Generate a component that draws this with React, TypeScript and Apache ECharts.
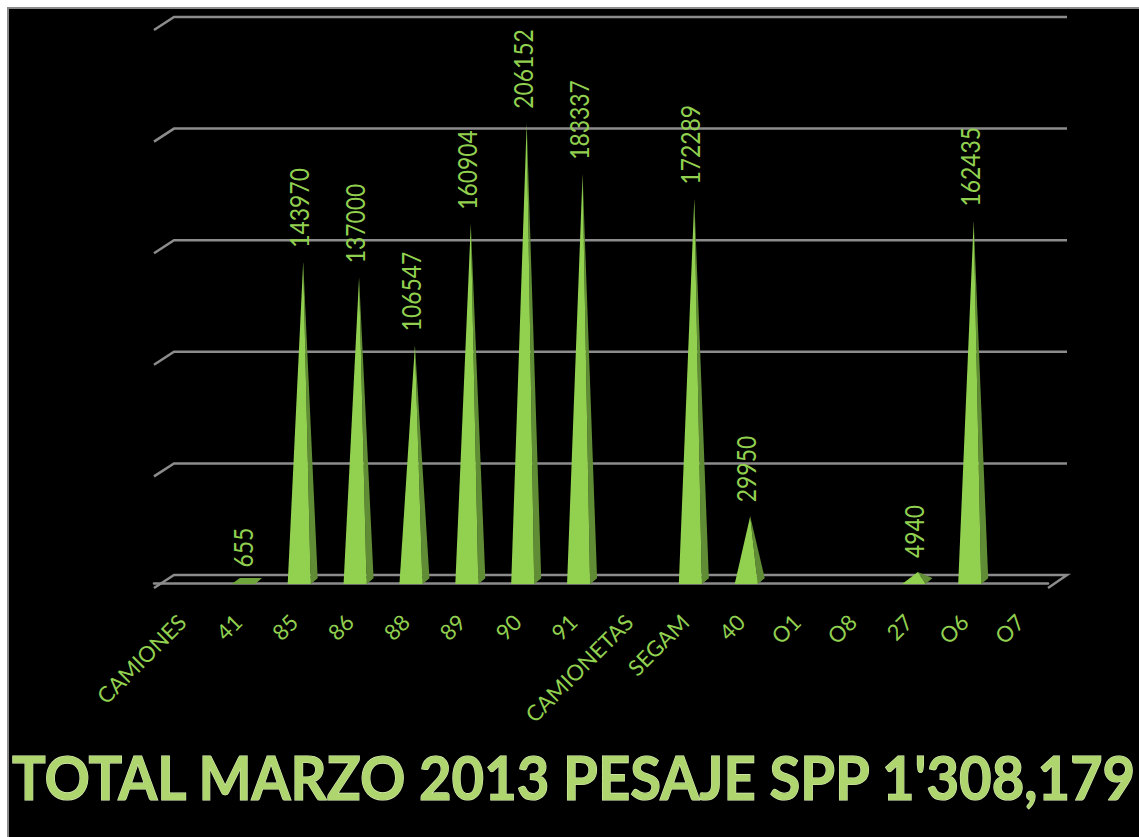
import React, { useEffect, useRef } from "react";
import * as echarts from "echarts";

const categories = ["CAMIONES", "41", "85", "86", "88", "89", "90", "91", "CAMIONETAS", "SEGAM", "40", "O1", "O8", "27", "O6", "O7"];
const values = [0, 655, 143970, 137000, 106547, 160904, 206152, 183337, 0, 172289, 29950, 0, 0, 4940, 162435, 0];
const gridValues = [0, 50000, 100000, 150000, 200000, 250000];
const titleText = "TOTAL MARZO 2013 PESAJE SPP 1'308,179";

const GREEN = "#92d050";
const SIDE = "#5f8c34";
const FLAT = "#6fa53c";
const LINE = "#8c8c8c";
const FONT = "Lato, 'Open Sans', sans-serif";

export default function App() {
  const ref = useRef<HTMLDivElement>(null);
  useEffect(() => {
    const chart = echarts.init(ref.current!, null, { renderer: "svg" });
    chart.setOption({
      animation: false,
      backgroundColor: "transparent",
      graphic: [
        {
          type: "text",
          x: 12,
          y: 745,
          scaleX: 0.907,
          style: {
            text: titleText,
            fontFamily: FONT,
            fontWeight: "bold",
            fontSize: 62,
            fill: "#aed56e",
            stroke: "#dcefb8",
            lineWidth: 1.2,
          },
        },
      ],
      grid: { left: 154, right: 91, top: 25, bottom: 254 },
      xAxis: {
        type: "category",
        data: categories,
        offset: 5,
        axisLine: { lineStyle: { color: LINE, width: 2.5 } },
        axisTick: { length: 8, lineStyle: { color: LINE, width: 2 } },
        axisLabel: { rotate: 45, interval: 0, color: GREEN, fontFamily: FONT, fontSize: 22, margin: 30 },
      },
      yAxis: { type: "value", min: 0, max: 250000, interval: 50000, show: false },
      series: [
        {
          type: "custom",
          clip: false,
          silent: true,
          z: 1,
          data: gridValues.map((v) => [0, v]),
          renderItem: (_p: any, api: any) => {
            const band = api.size([1, 0])[0];
            const y = api.coord([0, api.value(1)])[1];
            const left = api.coord([0, api.value(1)])[0] - band / 2;
            const right = left + band * categories.length;
            const isFloor = api.value(1) === 0;
            const pts = [[left, y + 5], [left + 20, y - 8], [right + 19, y - 8]];
            if (isFloor) pts.push([right, y + 5]);
            return { type: "polyline", shape: { points: pts }, style: { stroke: LINE, lineWidth: 2.5, fill: "none" } };
          },
        },
        {
          type: "custom",
          clip: false,
          silent: true,
          z: 2,
          data: values.map((v, i) => [i, v]),
          renderItem: (_p: any, api: any) => {
            const v = api.value(1);
            if (!v) return { type: "group", children: [] };
            const [cx, ay] = api.coord([api.value(0), v]);
            const by = api.coord([api.value(0), 0])[1] + 1;
            const apex = [cx + 9.5, ay];
            const fl = [cx - 6, by];
            const fr = [cx + 17, by];
            const br = [cx + 24, by - 6];
            const bl = [cx + 2, by - 6];
            const flat = v < 1000;
            return {
              type: "group",
              children: [
                { type: "polygon", shape: { points: [fl, fr, br, bl] }, style: { fill: flat ? FLAT : SIDE } },
                { type: "polygon", shape: { points: [fr, br, apex] }, style: { fill: flat ? FLAT : SIDE } },
                { type: "polygon", shape: { points: [fl, fr, apex] }, style: { fill: flat ? FLAT : GREEN } },
                {
                  type: "text",
                  x: cx + 5.5,
                  y: ay - 14,
                  rotation: Math.PI / 2,
                  scaleX: 0.88,
                  style: {
                    text: String(v),
                    fill: GREEN,
                    font: `26px ${FONT}`,
                    align: "left",
                    verticalAlign: "middle",
                  },
                },
              ],
            };
          },
        },
      ],
    });
    return () => chart.dispose();
  }, []);
  return (
    <div style={{ position: "fixed", left: 0, top: 0, width: 1139, height: 837, background: "#fff", overflow: "hidden" }}>
      <div style={{ position: "absolute", left: 7, top: 7, right: 0, bottom: 0, background: "#000", borderLeft: "2px solid #8a8a8a", borderTop: "2px solid #8a8a8a" }} />
      <div ref={ref} style={{ position: "absolute", left: 0, top: 0, width: 1139, height: 837 }} />
    </div>
  );
}
